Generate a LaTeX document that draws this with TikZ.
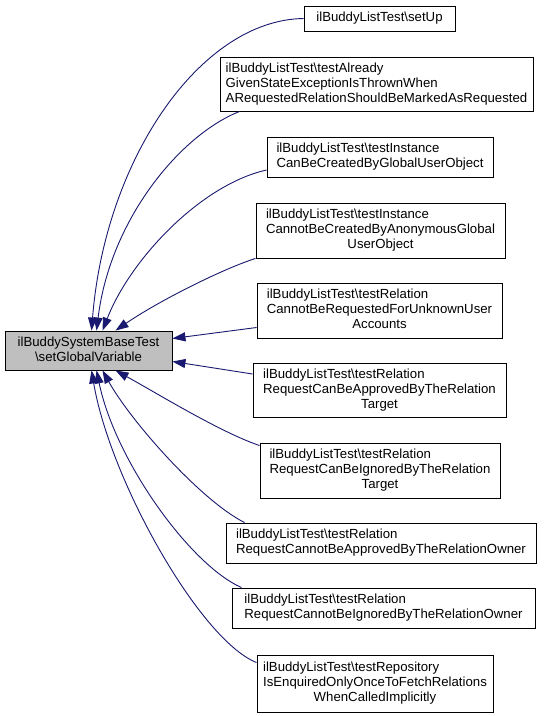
\documentclass[tikz,border=0pt]{standalone}
\usepackage{fontspec}
\setmainfont{Liberation Sans}
\usetikzlibrary{arrows.meta,calc}
\definecolor{edgeblue}{HTML}{191970}
\definecolor{maingray}{HTML}{BFBFBF}
\newcommand{\bs}{\textbackslash}
\begin{document}
\begin{tikzpicture}[x=1pt,y=-1pt,
  box/.style={draw=black, line width=0.9pt, fill=white, inner sep=0pt, anchor=center,
    font=\fontsize{13.2}{15}\selectfont},
  mainbox/.style={box, fill=maingray},
  edge/.style={draw=edgeblue, line width=0.9pt, -{Triangle[length=13pt,width=9pt]}}]
\useasboundingbox (0,0) rectangle (545,716);
\fill[white] (0,0) rectangle (545,716);

\node[mainbox, minimum width=167pt, minimum height=39pt] (main) at (88.5,350.5)
  {\begin{tabular}{@{}c@{}}ilBuddySystemBaseTest\\ \bs setGlobalVariable\end{tabular}};

\node[box, minimum width=151pt, minimum height=25pt] (n1) at (379.5,18.5)
  {ilBuddyListTest\bs setUp};
\node[box, minimum width=313pt, minimum height=54pt] (n2) at (376.5,84)
  {\begin{tabular}{@{}l@{}}ilBuddyListTest\bs testAlready\\ GivenStateExceptionIsThrownWhen\\ \multicolumn{1}{@{}c@{}}{ARequestedRelationShouldBeMarkedAsRequested}\end{tabular}};
\node[box, minimum width=226pt, minimum height=40pt] (n3) at (380,157)
  {\begin{tabular}{@{}l@{}}ilBuddyListTest\bs testInstance\\ \multicolumn{1}{@{}c@{}}{CanBeCreatedByGlobalUserObject}\end{tabular}};
\node[box, minimum width=249pt, minimum height=55pt] (n4) at (380.5,230.5)
  {\begin{tabular}{@{}l@{}}ilBuddyListTest\bs testInstance\\ CannotBeCreatedByAnonymousGlobal\\ \multicolumn{1}{@{}c@{}}{UserObject}\end{tabular}};
\node[box, minimum width=245pt, minimum height=55pt] (n5) at (379.5,310.5)
  {\begin{tabular}{@{}l@{}}ilBuddyListTest\bs testRelation\\ CannotBeRequestedForUnknownUser\\ \multicolumn{1}{@{}c@{}}{Accounts}\end{tabular}};
\node[box, minimum width=253pt, minimum height=54pt] (n6) at (379.5,390)
  {\begin{tabular}{@{}l@{}}ilBuddyListTest\bs testRelation\\ RequestCanBeApprovedByTheRelation\\ \multicolumn{1}{@{}c@{}}{Target}\end{tabular}};
\node[box, minimum width=240pt, minimum height=55pt] (n7) at (380,470.5)
  {\begin{tabular}{@{}l@{}}ilBuddyListTest\bs testRelation\\ RequestCanBeIgnoredByTheRelation\\ \multicolumn{1}{@{}c@{}}{Target}\end{tabular}};
\node[box, minimum width=310pt, minimum height=40pt] (n8) at (381,543)
  {\begin{tabular}{@{}l@{}}ilBuddyListTest\bs testRelation\\ \multicolumn{1}{@{}c@{}}{RequestCannotBeApprovedByTheRelationOwner}\end{tabular}};
\node[box, minimum width=303pt, minimum height=40pt] (n9) at (383.5,608)
  {\begin{tabular}{@{}l@{}}ilBuddyListTest\bs testRelation\\ \multicolumn{1}{@{}c@{}}{RequestCannotBeIgnoredByTheRelationOwner}\end{tabular}};
\node[box, minimum width=236pt, minimum height=57pt] (n10) at (375,683.5)
  {\begin{tabular}{@{}l@{}}ilBuddyListTest\bs testRepository\\ IsEnquiredOnlyOnceToFetchRelations\\ \multicolumn{1}{@{}c@{}}{WhenCalledImplicitly}\end{tabular}};

\draw[edge] (n1.west) .. controls (200,20) and (105,160) .. ([xshift=87pt]main.north west);
\draw[edge] ([xshift=20pt]n2.south west) .. controls (180,135) and (110,220) .. ([xshift=92pt]main.north west);
\draw[edge] ([yshift=-13pt]n3.west) .. controls (200,185) and (130,260) .. ([xshift=98pt]main.north west);
\draw[edge] (n4.south west) .. controls (225,268) and (160,300) .. ([xshift=111pt]main.north west);
\draw[edge] ([yshift=-17pt]n5.west) -- ([yshift=12pt]main.east);
\draw[edge] ([yshift=16pt]n6.west) -- ([yshift=-11pt]main.east);
\draw[edge] ([yshift=-3pt]n7.north west) .. controls (220,432) and (160,395) .. ([xshift=111pt]main.south west);
\draw[edge] ([xshift=19pt]n8.north west) .. controls (200,500) and (130,420) .. ([xshift=98pt]main.south west);
\draw[edge] ([xshift=10pt]n9.north west) .. controls (190,565) and (115,460) .. ([xshift=92pt]main.south west);
\draw[edge] ([yshift=-8pt]n10.north west) .. controls (200,640) and (110,480) .. ([xshift=87pt]main.south west);
\end{tikzpicture}
\end{document}
